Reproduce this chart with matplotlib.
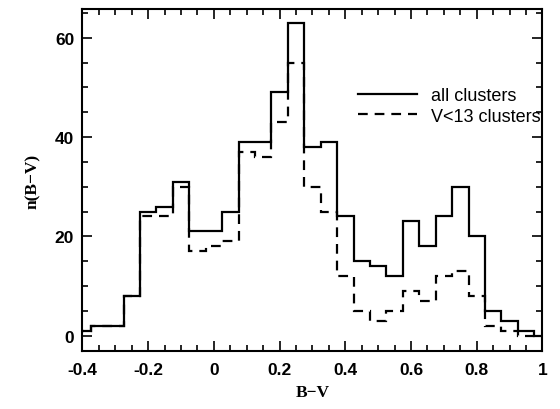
import numpy as np
import matplotlib
matplotlib.use("Agg")
import matplotlib.pyplot as plt
from matplotlib.ticker import MultipleLocator

# bin centres of the B-V histogram (width 0.05)
bv_centers = [-0.40, -0.35, -0.30, -0.25, -0.20, -0.15, -0.10, -0.05, 0.00, 0.05,
              0.10, 0.15, 0.20, 0.25, 0.30, 0.35, 0.40, 0.45, 0.50, 0.55,
              0.60, 0.65, 0.70, 0.75, 0.80, 0.85, 0.90, 0.95, 1.00]
n_all = [1, 2, 2, 8, 25, 26, 31, 21, 21, 25,
         39, 39, 49, 63, 38, 39, 24, 15, 14, 12,
         23, 18, 24, 30, 20, 5, 3, 1, 0]
n_bright = [1, 2, 2, 8, 24, 24, 30, 17, 18, 19,
            37, 36, 43, 55, 30, 25, 12, 5, 3, 5,
            9, 7, 12, 13, 8, 2, 1, 0, 0]
labels = ["all clusters", "V<13 clusters"]

bin_width = 0.05
edges = np.append(np.array(bv_centers) - bin_width / 2, bv_centers[-1] + bin_width / 2)

plt.rcParams['lines.scale_dashes'] = False

fig = plt.figure(figsize=(5.6, 4.1), dpi=100)
ax = fig.add_axes([0.1473, 0.1415, 0.8214, 0.834])

ax.stairs(n_all, edges, baseline=None, color='black', lw=1.6, label=labels[0])
ax.stairs(n_bright, edges, baseline=None, color='black', lw=1.6,
          linestyle=(0, (7, 5)), label=labels[1])

ax.set_xlim(-0.4, 1.0)
ax.set_ylim(-3.1, 65.8)

ax.xaxis.set_major_locator(MultipleLocator(0.2))
ax.xaxis.set_minor_locator(MultipleLocator(0.05))
ax.yaxis.set_major_locator(MultipleLocator(20))
ax.yaxis.set_minor_locator(MultipleLocator(5))
ax.set_xticks(np.arange(-0.4, 1.01, 0.2))
ax.set_xticklabels(["-0.4", "-0.2", "0", "0.2", "0.4", "0.6", "0.8", "1"])

ax.tick_params(which='both', direction='in', top=True, right=True, width=1.2)
ax.tick_params(which='major', length=7)
ax.tick_params(which='minor', length=4)
ax.tick_params(axis='x', which='major', pad=8)
ax.tick_params(axis='y', which='major', pad=6)
for lab in ax.get_xticklabels() + ax.get_yticklabels():
    lab.set_fontfamily('Liberation Sans')
    lab.set_fontweight('bold')
    lab.set_fontsize(12.5)

for sp in ax.spines.values():
    sp.set_linewidth(1.5)

ax.set_xlabel("B\u2212V", fontfamily='Liberation Serif', fontweight='bold', fontsize=12.5, labelpad=5)
ax.set_ylabel("n(B\u2212V)", fontfamily='Liberation Serif', fontweight='bold', fontsize=12.5, labelpad=10)

ax.legend(loc='upper left', bbox_to_anchor=(0.598, 0.772), frameon=False,
          handlelength=3.3, handletextpad=0.77, labelspacing=0.2,
          borderpad=0, borderaxespad=0,
          prop={'family': 'Liberation Sans', 'size': 13})

fig.savefig("out.png", dpi=100)
